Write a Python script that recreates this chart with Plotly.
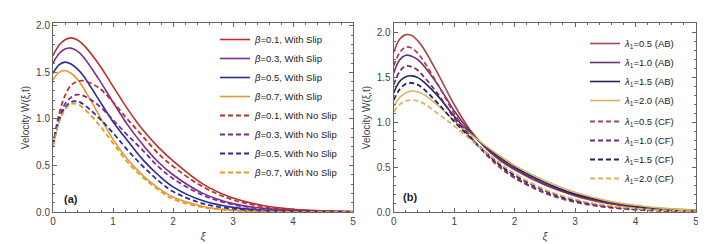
import plotly.graph_objects as go

# ---------------- data ----------------
xi = [0, 0.1, 0.2, 0.3, 0.4, 0.5, 0.75, 1.0, 1.25, 1.5, 1.75, 2.0, 2.5, 3.0, 3.5, 4.0, 4.5, 5.0]

# Panel (a): beta variation, with slip (solid) and no slip (dashed)
a_labels_slip = ["<i>β</i>=0.1, With Slip", "<i>β</i>=0.3, With Slip",
                 "<i>β</i>=0.5, With Slip", "<i>β</i>=0.7, With Slip"]
a_labels_noslip = ["<i>β</i>=0.1, With No Slip", "<i>β</i>=0.3, With No Slip",
                   "<i>β</i>=0.5, With No Slip", "<i>β</i>=0.7, With No Slip"]
a_slip_b01 = [1.68, 1.79, 1.85, 1.87, 1.85, 1.80, 1.60, 1.35, 1.10, 0.88, 0.70, 0.55, 0.30, 0.15, 0.07, 0.03, 0.012, 0.005]
a_slip_b03 = [1.60, 1.70, 1.75, 1.76, 1.73, 1.67, 1.44, 1.18, 0.93, 0.72, 0.54, 0.40, 0.20, 0.09, 0.04, 0.017, 0.007, 0.003]
a_slip_b05 = [1.49, 1.58, 1.61, 1.59, 1.54, 1.47, 1.22, 0.97, 0.76, 0.56, 0.40, 0.27, 0.12, 0.05, 0.02, 0.008, 0.003, 0.001]
a_slip_b07 = [1.42, 1.50, 1.52, 1.49, 1.43, 1.34, 1.06, 0.78, 0.56, 0.39, 0.26, 0.16, 0.06, 0.02, 0.008, 0.003, 0.001, 0.0]
a_noslip_b01 = [0.72, 1.05, 1.25, 1.36, 1.40, 1.41, 1.34, 1.18, 0.99, 0.81, 0.63, 0.49, 0.27, 0.13, 0.06, 0.025, 0.01, 0.004]
a_noslip_b03 = [0.72, 1.00, 1.16, 1.23, 1.26, 1.25, 1.15, 0.99, 0.82, 0.66, 0.49, 0.36, 0.18, 0.08, 0.035, 0.015, 0.006, 0.002]
a_noslip_b05 = [0.72, 0.98, 1.12, 1.18, 1.19, 1.16, 1.02, 0.85, 0.66, 0.49, 0.34, 0.22, 0.09, 0.035, 0.013, 0.005, 0.002, 0.0]
a_noslip_b07 = [0.70, 0.96, 1.10, 1.16, 1.16, 1.12, 0.95, 0.74, 0.53, 0.37, 0.24, 0.14, 0.05, 0.015, 0.005, 0.002, 0.001, 0.0]

# Panel (b): lambda1 variation, AB (solid) and CF (dashed)
b_labels_ab = ["<i>λ</i><sub>1</sub>=0.5 (AB)", "<i>λ</i><sub>1</sub>=1.0 (AB)",
               "<i>λ</i><sub>1</sub>=1.5 (AB)", "<i>λ</i><sub>1</sub>=2.0 (AB)"]
b_labels_cf = ["<i>λ</i><sub>1</sub>=0.5 (CF)", "<i>λ</i><sub>1</sub>=1.0 (CF)",
               "<i>λ</i><sub>1</sub>=1.5 (CF)", "<i>λ</i><sub>1</sub>=2.0 (CF)"]
b_ab_l05 = [1.78, 1.93, 1.98, 1.97, 1.91, 1.82, 1.52, 1.20, 0.93, 0.73, 0.58, 0.47, 0.30, 0.18, 0.10, 0.05, 0.025, 0.012]
b_ab_l10 = [1.55, 1.70, 1.75, 1.74, 1.70, 1.63, 1.40, 1.13, 0.91, 0.73, 0.59, 0.48, 0.31, 0.19, 0.11, 0.06, 0.03, 0.015]
b_ab_l15 = [1.33, 1.46, 1.51, 1.52, 1.50, 1.45, 1.28, 1.07, 0.89, 0.74, 0.61, 0.50, 0.33, 0.20, 0.12, 0.065, 0.035, 0.018]
b_ab_l20 = [1.18, 1.28, 1.33, 1.35, 1.34, 1.31, 1.18, 1.02, 0.88, 0.75, 0.63, 0.52, 0.35, 0.22, 0.13, 0.075, 0.04, 0.02]
b_cf_l05 = [1.63, 1.78, 1.84, 1.83, 1.77, 1.68, 1.40, 1.10, 0.86, 0.66, 0.50, 0.38, 0.21, 0.11, 0.055, 0.026, 0.012, 0.005]
b_cf_l10 = [1.42, 1.57, 1.63, 1.62, 1.58, 1.51, 1.30, 1.05, 0.85, 0.67, 0.52, 0.39, 0.22, 0.12, 0.06, 0.03, 0.014, 0.006]
b_cf_l15 = [1.25, 1.37, 1.43, 1.44, 1.42, 1.37, 1.20, 1.01, 0.84, 0.68, 0.53, 0.41, 0.24, 0.13, 0.07, 0.035, 0.016, 0.007]
b_cf_l20 = [1.12, 1.20, 1.24, 1.25, 1.24, 1.21, 1.09, 0.96, 0.82, 0.68, 0.55, 0.43, 0.25, 0.14, 0.075, 0.04, 0.018, 0.008]

x_ticks = [0, 1, 2, 3, 4, 5]
y_ticks = [0.0, 0.5, 1.0, 1.5, 2.0]
y_ticklabels = ["0.0", "0.5", "1.0", "1.5", "2.0"]

# ---------------- styles ----------------
a_colors = ["#B8312F", "#7B2D8E", "#2A2C9C", "#E39B30"]
b_colors = ["#A8464A", "#6E2F72", "#24255E", "#D8B463"]

fig = go.Figure()

a_slip = [a_slip_b01, a_slip_b03, a_slip_b05, a_slip_b07]
a_noslip = [a_noslip_b01, a_noslip_b03, a_noslip_b05, a_noslip_b07]
for i in range(4):
    fig.add_trace(go.Scatter(x=xi, y=a_slip[i], mode="lines", name=a_labels_slip[i],
                             line=dict(color=a_colors[i], width=1.6, shape="spline", smoothing=1.0),
                             xaxis="x", yaxis="y", legend="legend"))
for i in range(4):
    fig.add_trace(go.Scatter(x=xi, y=a_noslip[i], mode="lines", name=a_labels_noslip[i],
                             line=dict(color=a_colors[i], width=1.8, dash="5px,3px", shape="spline", smoothing=1.0),
                             xaxis="x", yaxis="y", legend="legend"))

b_ab = [b_ab_l05, b_ab_l10, b_ab_l15, b_ab_l20]
b_cf = [b_cf_l05, b_cf_l10, b_cf_l15, b_cf_l20]
for i in range(4):
    fig.add_trace(go.Scatter(x=xi, y=b_ab[i], mode="lines", name=b_labels_ab[i],
                             line=dict(color=b_colors[i], width=1.6, shape="spline", smoothing=1.0),
                             xaxis="x2", yaxis="y2", legend="legend2", legendgroup="ab"))
for i in range(4):
    fig.add_trace(go.Scatter(x=xi, y=b_cf[i], mode="lines", name=b_labels_cf[i],
                             line=dict(color=b_colors[i], width=1.8, dash="5px,3px", shape="spline", smoothing=1.0),
                             xaxis="x2", yaxis="y2", legend="legend2", legendgroup="cf"))

W, H = 706, 244
L, R, T, B = 45, 18, 15, 40
pw = W - L - R
ph = H - T - B

def px_x(px):
    return (px - L) / pw

def px_y(py):
    return (H - B - py) / ph

font = "Liberation Sans, Arial, sans-serif"
tickfont = dict(family=font, size=10, color="#444")
axis_common = dict(showline=True, linecolor="#666", linewidth=1, mirror="ticks",
                   ticks="inside", ticklen=4, tickcolor="#666", showgrid=False, zeroline=False,
                   tickfont=tickfont)

xaxis_common = dict(axis_common, range=[0, 5], tickvals=x_ticks,
                    minor=dict(dtick=0.2, ticks="inside", ticklen=2, tickcolor="#666", showgrid=False),
                    title=dict(text="<i>ξ</i>", font=dict(family=font, size=11, color="#444"), standoff=6))
yaxis_common = dict(axis_common, tickvals=y_ticks, ticktext=y_ticklabels,
                    minor=dict(dtick=0.1, ticks="inside", ticklen=2, tickcolor="#666", showgrid=False),
                    title=dict(text="Velocity W(ξ,t)", font=dict(family=font, size=10, color="#444"), standoff=4))

d1 = px_x(345)
d2 = px_x(385.7)

legend_common = dict(xref="paper", yref="paper", xanchor="left", yanchor="top",
                     bgcolor="rgba(0,0,0,0)", borderwidth=0,
                     font=dict(family=font, size=9.5, color="#222"), itemwidth=30)

fig.update_layout(
    width=W, height=H,
    margin=dict(l=L, r=R, t=T, b=B, autoexpand=False),
    paper_bgcolor="white", plot_bgcolor="white",
    xaxis=dict(xaxis_common, domain=[0, d1], anchor="y"),
    yaxis=dict(yaxis_common, range=[0, 2.03], domain=[0, 1], anchor="x"),
    xaxis2=dict(xaxis_common, domain=[d2, 1], anchor="y2"),
    yaxis2=dict(yaxis_common, range=[0, 2.11], domain=[0, 1], anchor="x2"),
    legend=dict(legend_common, x=px_x(207), y=px_y(17), tracegroupgap=0),
    legend2=dict(legend_common, x=px_x(577), y=px_y(21), tracegroupgap=2),
    showlegend=True,
    annotations=[
        dict(text="<b>(a)</b>", xref="x domain", yref="y domain", x=0.03, y=0.07,
             xanchor="left", yanchor="middle", showarrow=False,
             font=dict(family=font, size=11, color="#222")),
        dict(text="<b>(b)</b>", xref="x2 domain", yref="y2 domain", x=0.025, y=0.08,
             xanchor="left", yanchor="middle", showarrow=False,
             font=dict(family=font, size=11, color="#222")),
    ],
)

fig.write_html("out.html")
